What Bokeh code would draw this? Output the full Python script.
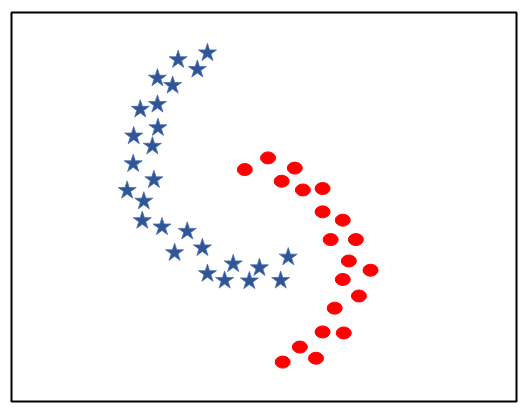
from bokeh.plotting import figure
from bokeh.models import Range1d
from bokeh.embed import file_html
from bokeh.resources import INLINE

# Blue stars
star_x = [3.88, 3.30, 3.68, 2.89, 3.19, 2.89, 2.55, 2.90, 2.42, 2.79, 2.41, 2.82, 2.29,
          2.62, 2.59, 2.98, 3.48, 3.23, 3.78, 3.88, 4.39, 4.22, 4.71, 4.91, 5.33, 5.48]
star_y = [7.17, 7.03, 6.83, 6.65, 6.50, 6.11, 6.01, 5.63, 5.46, 5.25, 4.89, 4.56, 4.34,
          4.12, 3.72, 3.59, 3.50, 3.06, 3.16, 2.63, 2.83, 2.49, 2.48, 2.75, 2.49, 2.97]

# Red ellipses
dot_x = [4.62, 5.08, 5.61, 5.35, 5.77, 6.16, 6.16, 6.56, 6.32, 6.82, 6.68, 7.11, 6.56,
         6.88, 6.40, 6.16, 6.58, 5.71, 6.03, 5.37]
dot_y = [4.77, 5.01, 4.80, 4.53, 4.35, 4.38, 3.90, 3.73, 3.33, 3.33, 2.89, 2.70, 2.51,
         2.17, 1.92, 1.43, 1.41, 1.12, 0.89, 0.81]

p = figure(width=531, height=409, output_backend="svg", toolbar_location=None,
           x_range=Range1d(0, 10), y_range=Range1d(0, 8),
           min_border_left=11, min_border_right=15, min_border_top=12, min_border_bottom=8)
p.axis.visible = False
p.grid.visible = False
p.outline_line_color = "black"
p.outline_line_width = 2
p.outline_line_alpha = 1.0
p.background_fill_color = "white"
p.border_fill_color = "white"

p.scatter(star_x, star_y, marker="star", size=19, fill_color="#2F5597",
          line_color="#4A6FAF", line_width=0.8)
p.ellipse(dot_x, dot_y, width=15, height=12, width_units="screen", height_units="screen",
          fill_color="#FF0000", line_color="#FF0000")

open("out.html", "w").write(file_html(p, INLINE))
